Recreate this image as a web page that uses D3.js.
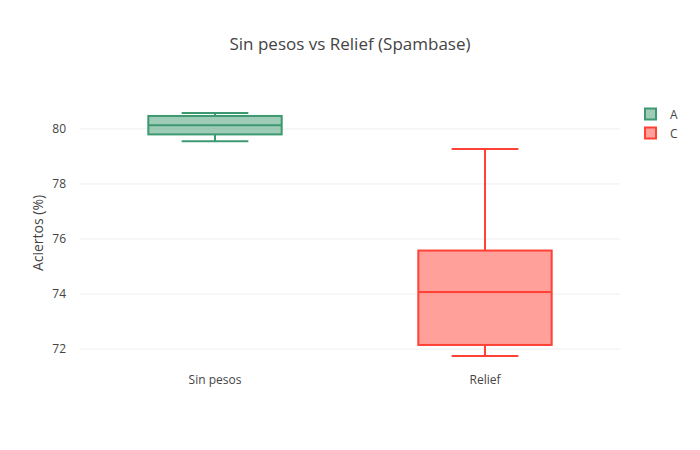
<!DOCTYPE html>
<html>
<head>
<meta charset="utf-8">
<script src="https://cdn.jsdelivr.net/npm/d3@7"></script>
<style>
body{margin:0;background:#fff;}
svg{font-family:"Open Sans",sans-serif;}
</style>
</head>
<body>
<svg id="chart" width="700" height="450"></svg>
<script>
const categories = ["Sin pesos", "Relief"];
const seriesNames = ["A", "C"];
const colors = ["#3D9970", "#FF4136"];
const lowerFence = [79.55, 71.75];
const q1 = [79.80, 72.15];
const median = [80.13, 74.07];
const q3 = [80.47, 75.58];
const upperFence = [80.58, 79.27];
const yTicks = [72, 74, 76, 78, 80];

const svg = d3.select("#chart");
const W = 700, H = 450, m = {l:80, r:80, t:100, b:80};
const pw = W - m.l - m.r, ph = H - m.t - m.b;

svg.append("rect").attr("width", W).attr("height", H).attr("fill", "#fff");

const x = d3.scaleBand().domain(categories).range([m.l, m.l + pw]);
const y = d3.scaleLinear().domain([71.24, 81.05]).range([m.t + ph, m.t]);

// grid
const g = svg.append("g");
g.selectAll("line.grid").data(yTicks).enter().append("line")
  .attr("x1", m.l).attr("x2", m.l + pw)
  .attr("y1", d => y(d)).attr("y2", d => y(d))
  .attr("stroke", "#eee").attr("stroke-width", 1);

// y axis
const yAxis = d3.axisLeft(y).tickValues(yTicks).tickSize(0).tickPadding(14);
const ya = svg.append("g").attr("transform", `translate(${m.l},0)`).call(yAxis);
ya.select(".domain").remove();
ya.selectAll("text").attr("fill", "#444").style("font-size", "12px").style("font-family", "'Open Sans',sans-serif");

// x axis
const xAxis = d3.axisBottom(x).tickSize(0).tickPadding(5);
const xa = svg.append("g").attr("transform", `translate(0,${m.t + ph})`).call(xAxis);
xa.select(".domain").remove();
xa.selectAll("text").attr("fill", "#444").style("font-size", "12px").style("font-family", "'Open Sans',sans-serif");

// boxes
const boxW = x.bandwidth() * 0.494;
const capW = boxW * 0.5;
categories.forEach((c, i) => {
  const cx = x(c) + x.bandwidth() / 2;
  const col = colors[i];
  const bg = svg.append("g");
  // whiskers
  bg.append("line").attr("x1", cx).attr("x2", cx).attr("y1", y(upperFence[i])).attr("y2", y(q3[i]))
    .attr("stroke", col).attr("stroke-width", 2);
  bg.append("line").attr("x1", cx).attr("x2", cx).attr("y1", y(q1[i])).attr("y2", y(lowerFence[i]))
    .attr("stroke", col).attr("stroke-width", 2);
  bg.append("line").attr("x1", cx - capW/2).attr("x2", cx + capW/2).attr("y1", y(upperFence[i])).attr("y2", y(upperFence[i]))
    .attr("stroke", col).attr("stroke-width", 2);
  bg.append("line").attr("x1", cx - capW/2).attr("x2", cx + capW/2).attr("y1", y(lowerFence[i])).attr("y2", y(lowerFence[i]))
    .attr("stroke", col).attr("stroke-width", 2);
  // box
  bg.append("rect").attr("x", cx - boxW/2).attr("width", boxW)
    .attr("y", y(q3[i])).attr("height", y(q1[i]) - y(q3[i]))
    .attr("fill", col).attr("fill-opacity", 0.5).attr("stroke", col).attr("stroke-width", 2);
  bg.append("line").attr("x1", cx - boxW/2).attr("x2", cx + boxW/2).attr("y1", y(median[i])).attr("y2", y(median[i]))
    .attr("stroke", col).attr("stroke-width", 2);
});

// title
svg.append("text").attr("x", W/2).attr("y", 49.5).attr("text-anchor", "middle")
  .attr("fill", "#444").style("font-size", "17px").text("Sin pesos vs Relief (Spambase)");

// y title
svg.append("text").attr("transform", `translate(43,${m.t + ph/2 - 2}) rotate(-90)`)
  .attr("text-anchor", "middle").attr("fill", "#444").style("font-size", "14px").text("Aciertos (%)");

// legend
const lg = svg.append("g");
seriesNames.forEach((s, i) => {
  const ly = 114 + i * 19;
  lg.append("rect").attr("x", 645).attr("y", ly - 5.5).attr("width", 11).attr("height", 11)
    .attr("fill", colors[i]).attr("fill-opacity", 0.5).attr("stroke", colors[i]).attr("stroke-width", 2);
  lg.append("text").attr("x", 670).attr("y", ly + 4.5).attr("fill", "#444").style("font-size", "12px").text(s);
});
</script>
</body>
</html>
